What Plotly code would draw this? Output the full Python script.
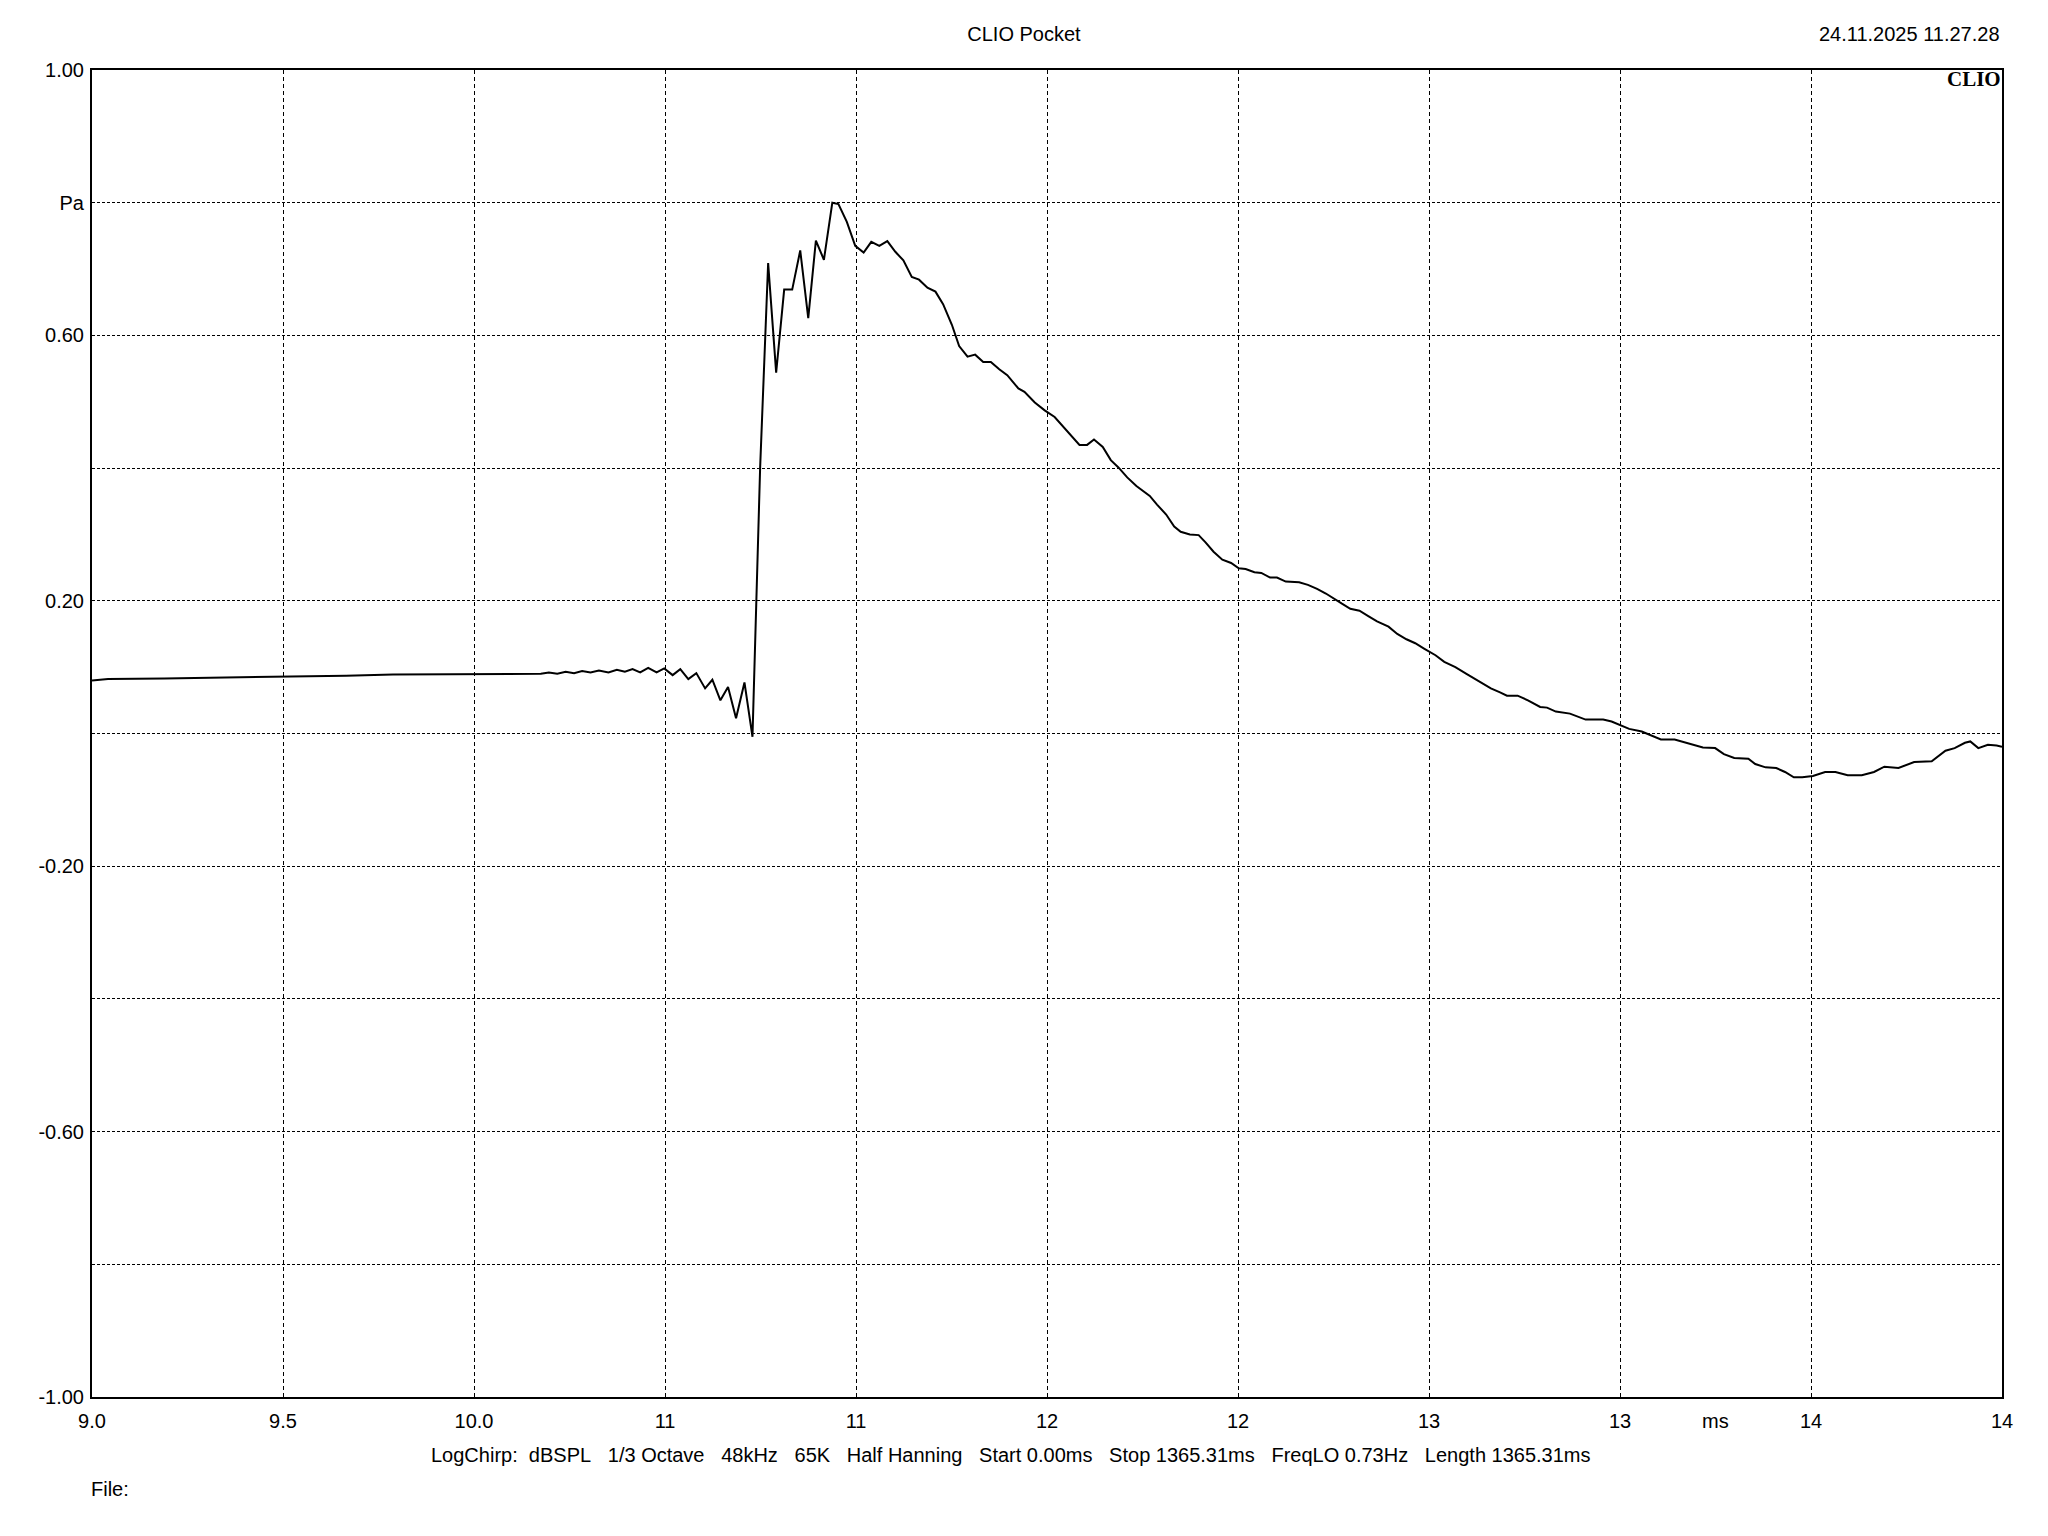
import plotly.graph_objects as go

# ---- data ----
time_ms = [
    9.000, 9.042, 9.189, 9.350, 9.496, 9.665, 9.788, 9.994, 10.153, 10.175, 10.196, 10.218, 10.240,
    10.262, 10.283, 10.305, 10.327, 10.352, 10.374, 10.395, 10.415, 10.435, 10.456, 10.478, 10.498,
    10.520, 10.540, 10.561, 10.582, 10.605, 10.624, 10.645, 10.665, 10.686, 10.708, 10.729, 10.749,
    10.770, 10.791, 10.812, 10.833, 10.854, 10.875, 10.895, 10.916, 10.938, 10.954, 10.976, 10.998,
    11.020, 11.040, 11.061, 11.082, 11.103, 11.124, 11.146, 11.165, 11.187, 11.208, 11.228, 11.251,
    11.270, 11.292, 11.312, 11.333, 11.353, 11.375, 11.396, 11.425, 11.441, 11.468, 11.494, 11.520,
    11.541, 11.562, 11.585, 11.605, 11.623, 11.646, 11.667, 11.687, 11.710, 11.734, 11.769, 11.788,
    11.812, 11.833, 11.850, 11.874, 11.897, 11.915, 11.936, 11.959, 11.982, 12.002, 12.020, 12.043,
    12.061, 12.084, 12.102, 12.125, 12.160, 12.183, 12.207, 12.230, 12.248, 12.271, 12.294, 12.318,
    12.341, 12.364, 12.394, 12.417, 12.441, 12.464, 12.487, 12.517, 12.540, 12.569, 12.598, 12.627,
    12.662, 12.686, 12.704, 12.732, 12.759, 12.791, 12.809, 12.832, 12.869, 12.910, 12.956, 12.978,
    13.001, 13.024, 13.057, 13.079, 13.107, 13.143, 13.180, 13.217, 13.249, 13.272, 13.299, 13.336,
    13.354, 13.381, 13.409, 13.432, 13.455, 13.477, 13.505, 13.537, 13.564, 13.596, 13.633, 13.665,
    13.692, 13.729, 13.770, 13.816, 13.852, 13.876, 13.903, 13.917, 13.938, 13.963, 13.986, 14.000,
]
pressure_pa = [
    0.080, 0.082, 0.083, 0.084, 0.086, 0.087, 0.089, 0.090, 0.091, 0.090, 0.092, 0.090, 0.093,
    0.091, 0.094, 0.092, 0.095, 0.092, 0.096, 0.093, 0.097, 0.092, 0.099, 0.092, 0.098,
    0.088, 0.097, 0.082, 0.091, 0.068, 0.081, 0.050, 0.070, 0.023, 0.077, -0.005, 0.400,
    0.709, 0.544, 0.669, 0.669, 0.728, 0.626, 0.743, 0.714, 0.800, 0.798, 0.771, 0.735,
    0.725, 0.741, 0.735, 0.742, 0.726, 0.713, 0.688, 0.684, 0.672, 0.666, 0.647, 0.616,
    0.584, 0.568, 0.571, 0.560, 0.560, 0.549, 0.540, 0.520, 0.515, 0.499, 0.487, 0.477,
    0.463, 0.449, 0.435, 0.435, 0.443, 0.432, 0.412, 0.401, 0.386, 0.373, 0.358, 0.345,
    0.330, 0.312, 0.304, 0.300, 0.299, 0.288, 0.274, 0.262, 0.257, 0.249, 0.248, 0.243,
    0.242, 0.235, 0.235, 0.229, 0.228, 0.224, 0.218, 0.211, 0.204, 0.196, 0.188, 0.185,
    0.177, 0.169, 0.161, 0.150, 0.142, 0.136, 0.128, 0.118, 0.108, 0.100, 0.090, 0.080,
    0.068, 0.062, 0.057, 0.057, 0.050, 0.040, 0.039, 0.033, 0.030, 0.021, 0.021, 0.018,
    0.012, 0.007, 0.003, -0.002, -0.009, -0.009, -0.015, -0.021, -0.022, -0.031, -0.037, -0.038,
    -0.046, -0.051, -0.052, -0.058, -0.066, -0.066, -0.064, -0.058, -0.058, -0.063, -0.063, -0.058,
    -0.050, -0.052, -0.043, -0.042, -0.026, -0.022, -0.014, -0.012, -0.022, -0.017, -0.018, -0.020,
]

x_tickvals = [9.0, 9.5, 10.0, 10.5, 11.0, 11.5, 12.0, 12.5, 13.0, 13.5, 14.0]
x_ticktext = ["9.0", "9.5", "10.0", "11", "11", "12", "12", "13", "13", "14", "14"]
y_tickvals = [1.0, 0.8, 0.6, 0.4, 0.2, 0.0, -0.2, -0.4, -0.6, -0.8, -1.0]
y_ticktext = ["1.00", "Pa", "0.60", "", "0.20", "", "-0.20", "", "-0.60", "", "-1.00"]

title_text = "CLIO Pocket"
date_text = "24.11.2025 11.27.28"
x_unit = "ms"
x_unit_pos = 13.25
footer_parts = ["LogChirp:", "dBSPL", "1/3 Octave", "48kHz", "65K", "Half Hanning",
                "Start 0.00ms", "Stop 1365.31ms", "FreqLO 0.73Hz", "Length 1365.31ms"]
file_text = "File:"

FONT = "Liberation Sans, Arial, sans-serif"
FS = 20
NB = "\u00a0"

# page has an 8px body margin; size the figure so it fits the window
W, H = 2032, 1520

fig = go.Figure()
fig.add_trace(go.Scatter(x=time_ms, y=pressure_pa, mode="lines",
                         line=dict(color="black", width=2), showlegend=False,
                         hoverinfo="skip"))

fig.update_layout(
    width=W, height=H, autosize=False,
    margin=dict(l=84, r=38, t=62, b=131, pad=0),
    paper_bgcolor="white", plot_bgcolor="white",
    font=dict(family=FONT, size=FS, color="black"),
    title=dict(text=title_text, x=0.5, xref="container", xanchor="center",
               y=1 - 26 / H, yref="container", yanchor="middle",
               font=dict(family=FONT, size=FS, color="black")),
)

fig.update_xaxes(
    range=[9.0, 14.0], tickmode="array", tickvals=x_tickvals, ticktext=x_ticktext,
    showgrid=True, gridcolor="black", gridwidth=1, griddash="4px,3px",
    showline=True, linecolor="black", linewidth=2, mirror=True,
    ticks="", ticklabelstandoff=5, zeroline=False,
    tickfont=dict(family=FONT, size=FS, color="black"),
)
fig.update_yaxes(
    range=[-1.0, 1.0], tickmode="array", tickvals=y_tickvals, ticktext=y_ticktext,
    showgrid=True, gridcolor="black", gridwidth=1, griddash="3px,2px",
    showline=True, linecolor="black", linewidth=2, mirror=True,
    ticks="", ticklabelstandoff=2, zeroline=False,
    tickfont=dict(family=FONT, size=FS, color="black"),
)

footer_text = ("LogChirp:" + NB * 2 + (NB * 3).join(footer_parts[1:]))

annotations = [
    dict(text=date_text, xref="paper", yref="paper", x=1.0, y=1.0, xanchor="right",
         yanchor="middle", yshift=36, showarrow=False,
         font=dict(family=FONT, size=FS, color="black")),
    dict(text="<b>CLIO</b>", xref="paper", yref="paper", x=1.0, y=1.0, xanchor="right",
         yanchor="top", xshift=1, yshift=5, showarrow=False,
         font=dict(family="Liberation Serif, Times New Roman, serif", size=21, color="black")),
    dict(text=x_unit, xref="x", yref="paper", x=x_unit_pos, y=0.0, xanchor="center",
         yanchor="middle", yshift=-24, showarrow=False,
         font=dict(family=FONT, size=FS, color="black")),
    dict(text=footer_text,
         xref="paper", yref="paper", x=(1011 - 92) / 1910, y=0.0, xanchor="center",
         yanchor="middle", yshift=-58, showarrow=False,
         font=dict(family=FONT, size=FS, color="black")),
    dict(text=file_text, xref="paper", yref="paper", x=0.0, y=0.0, xanchor="left",
         yanchor="middle", xshift=-3, yshift=-92, showarrow=False,
         font=dict(family=FONT, size=FS, color="black")),
]
fig.update_layout(annotations=annotations)

fig.write_html("out.html")
